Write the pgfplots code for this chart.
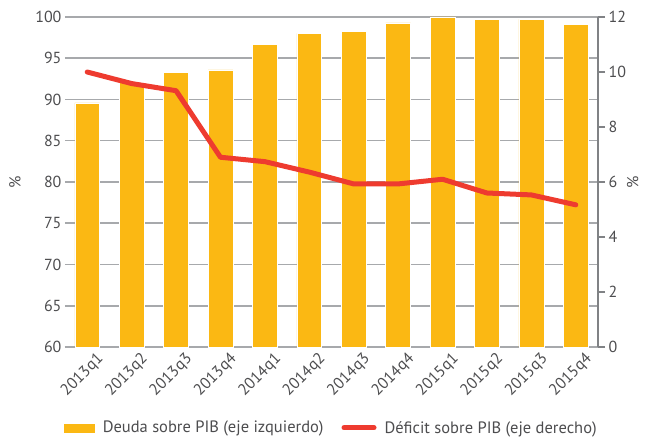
\documentclass[border=0pt]{standalone}
\usepackage{pgfplots}
\pgfplotsset{compat=1.18}
\usepackage{fontspec}
\setmainfont{PT Sans}
\definecolor{barc}{HTML}{FBB813}
\definecolor{linec}{HTML}{EE3B2F}
\definecolor{gridc}{HTML}{A7A9AC}
\definecolor{axc}{HTML}{808285}
\definecolor{txt}{HTML}{4D4D4F}
\newcommand{\fs}{\fontsize{16}{19}\selectfont}
\begin{document}
\begin{tikzpicture}
\pgfplotsset{
  every axis/.append style={
    scale only axis, width=533pt, height=330pt,
    xmin=-0.5, xmax=11.5,
    tick label style={font=\fs, text=txt},
    label style={font=\fs, text=txt},
    /pgf/number format/assume math mode=true,
  },
}
\begin{axis}[
  ybar, bar width=0.56,
  ymin=60, ymax=100, ytick={60,65,...,100},
  axis x line*=bottom, axis y line=none,
  x axis line style={draw=axc, line width=1.5pt},
  xtick={0,...,11}, major x tick style={draw=none},
  xticklabels={2013q1,2013q2,2013q3,2013q4,2014q1,2014q2,2014q3,2014q4,2015q1,2015q2,2015q3,2015q4},
  x tick label style={rotate=45, anchor=north east, inner sep=1pt, xshift=7pt, yshift=-5pt},
]
\end{axis}
\begin{axis}[
  ybar, bar width=0.56,
  ymin=60, ymax=100, ytick={60,65,...,100},
  ymajorgrids, grid style={draw=gridc, line width=1.5pt},
  axis x line=none, axis y line*=left, y axis line style={draw=none},
  major y tick style={draw=none},
  after end axis/.code={
    \node[rotate=90, font=\fs, text=txt, inner sep=0pt] at (axis description cs:-0.094,0.5) {\%};
    \path (rel axis cs:0,0) ++(-65pt,0pt);
  },
]
\addplot[fill=barc, draw=white, line width=0.5pt] coordinates {
  (0,89.6) (1,92.1) (2,93.25) (3,93.6) (4,96.7) (5,98.0)
  (6,98.3) (7,99.3) (8,100.0) (9,99.7) (10,99.7) (11,99.1)
};
\end{axis}
\begin{axis}[
  ymin=0, ymax=12, ytick={0,2,...,12},
  axis x line=none, axis y line*=right,
  y axis line style={draw=axc, line width=1.5pt},
  major y tick style={draw=axc, line width=1.5pt},
  major tick length=7pt, tick align=outside,
  legend columns=2,
  legend style={draw=none, fill=none, font=\fontsize{16.5}{20}\selectfont, text=txt,
    at={(0.5,-0.245)}, anchor=center,
    /tikz/every odd column/.append style={column sep=6pt},
    /tikz/every even column/.append style={column sep=16pt}},
  after end axis/.code={
    \node[rotate=90, font=\fs, text=txt, inner sep=0pt] at (axis description cs:1.065,0.5) {\%};
    \path (rel axis cs:0,1) ++(0,17pt);
    \path (rel axis cs:1,0) ++(47pt,0pt);
  },
]
\addlegendimage{legend image code/.code={\fill[barc] (0pt,-4pt) rectangle (30pt,4pt);}}
\addlegendentry{Deuda sobre PIB (eje izquierdo)}
\addplot[draw=linec, line width=5pt, line cap=round, line join=round,
  legend image code/.code={\draw[linec, line width=5pt, line cap=round] (2pt,0pt) -- (32pt,0pt);}]
  coordinates {
  (0,10.0) (1,9.58) (2,9.32) (3,6.9) (4,6.74) (5,6.36)
  (6,5.93) (7,5.93) (8,6.1) (9,5.6) (10,5.53) (11,5.17)
};
\addlegendentry{Déficit sobre PIB (eje derecho)}
\end{axis}
\end{tikzpicture}
\end{document}
